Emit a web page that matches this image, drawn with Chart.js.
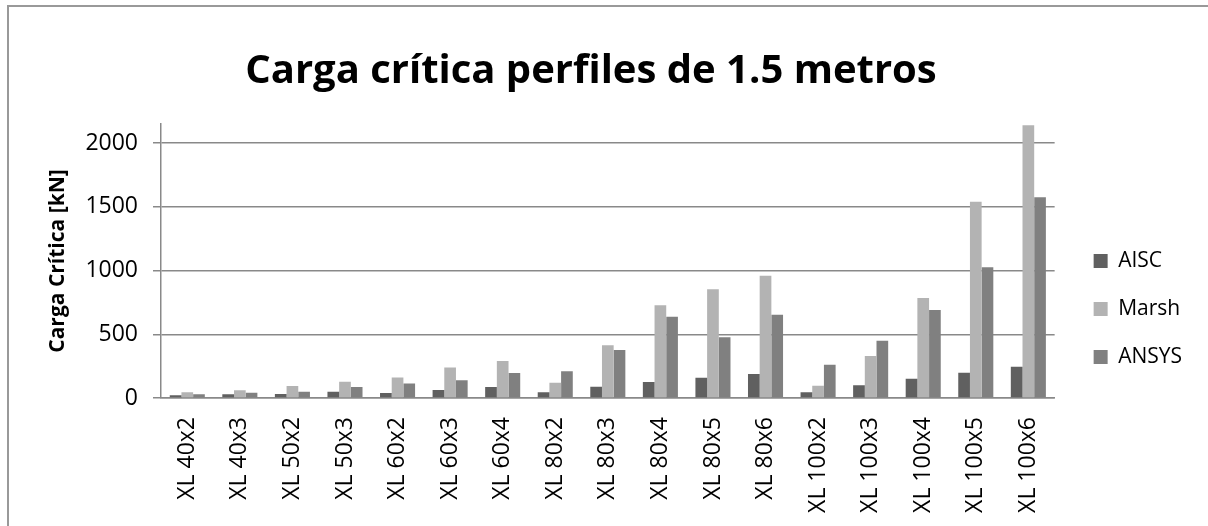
<!DOCTYPE html>
<html>
<head>
<meta charset="utf-8">
<script src="https://cdn.jsdelivr.net/npm/chart.js@4/dist/chart.umd.min.js"></script>
<style>
  body { margin: 0; background: #fff; }
  #wrap { position: relative; width: 1208px; height: 526px; overflow: hidden; }
  #frame { position: absolute; left: 7px; top: 5px; width: 1300px; height: 600px; border-top: 2px solid #999; border-left: 2px solid #999; }
  #chart { position: absolute; left: 0; top: 0; }
</style>
</head>
<body>
<div id="wrap">
  <div id="frame"></div>
  <canvas id="chart" width="1208" height="526"></canvas>
</div>
<script>
// perfiles y cargas criticas [kN]
const perfiles = [
  "XL 40x2", "XL 40x3", "XL 50x2", "XL 50x3", "XL 60x2", "XL 60x3",
  "XL 60x4", "XL 80x2", "XL 80x3", "XL 80x4", "XL 80x5", "XL 80x6",
  "XL 100x2", "XL 100x3", "XL 100x4", "XL 100x5", "XL 100x6",
];
const aisc = [21, 29, 32, 50, 40, 63, 86, 45, 88, 125, 159, 188, 45, 100, 152, 199, 246];
const marsh = [45, 60, 94, 128, 160, 240, 290, 120, 413, 727, 853, 959, 97, 329, 785, 1540, 2140];
const ansys = [29, 42, 50, 86, 113, 139, 196, 209, 376, 638, 476, 653, 261, 450, 690, 1025, 1575];
const y_ticks = [0, 500, 1000, 1500, 2000];

Chart.defaults.font.family = "'Open Sans', sans-serif";
Chart.defaults.color = "#000";

const grid_color = "#898989";

const config_bar = {
  type: "bar",
  data: {
    labels: perfiles,
    datasets: [
      { label: "AISC", data: aisc, backgroundColor: "#606060" },
      { label: "Marsh", data: marsh, backgroundColor: "#b3b3b3" },
      { label: "ANSYS", data: ansys, backgroundColor: "#808080" },
    ],
  },
  options: {
    responsive: false,
    animation: false,
    // padding izquierdo negativo para centrar el titulo como en el original
    layout: { padding: { left: -10, right: 16, top: 0, bottom: 0 } },
    datasets: { bar: { categoryPercentage: 0.667, barPercentage: 1 } },
    plugins: {
      title: {
        display: true,
        text: "Carga crítica perfiles de 1.5 metros",
        font: { size: 40, weight: "bold" },
        padding: { top: 48, bottom: 28 },
      },
      legend: {
        position: "right",
        align: "start",
        // titulo vacio: solo baja los items de la leyenda
        title: { display: true, text: "", font: { size: 10 }, padding: { top: 0, bottom: 211.5 } },
        labels: { boxWidth: 14, boxHeight: 14, padding: 27, font: { size: 21 } },
      },
      tooltip: { enabled: false },
    },
    scales: {
      x: {
        grid: { display: true, drawOnChartArea: false, drawTicks: false },
        border: { color: grid_color, width: 1.5 },
        ticks: { minRotation: 90, maxRotation: 90, autoSkip: false, padding: 19, font: { size: 23 } },
        afterFit: (s) => { s.height = 128; },
      },
      y: {
        min: 0,
        max: 2150,
        ticks: { stepSize: 500, padding: 15, font: { size: 23 }, callback: (v) => String(v) },
        grid: { color: grid_color, lineWidth: 1.5, tickLength: 8 },
        border: { color: grid_color, width: 1.5 },
        title: {
          display: true,
          text: "Carga Crítica [kN]",
          font: { size: 21, weight: "bold" },
          padding: { top: 55, bottom: 12 },
        },
        // solo las marcas 0..2000
        afterBuildTicks: (s) => {
          s.ticks = y_ticks.map((v) => ({ value: v }));
        },
        afterFit: (s) => { s.width = 171; },
      },
      // espacio entre el grafico y la leyenda
      yr: {
        position: "right",
        display: true,
        grid: { display: false },
        border: { display: false },
        ticks: { display: false },
        afterFit: (s) => { s.width = 12; },
      },
    },
  },
};

const carga_chart = new Chart(document.getElementById("chart"), config_bar);
</script>
</body>
</html>
